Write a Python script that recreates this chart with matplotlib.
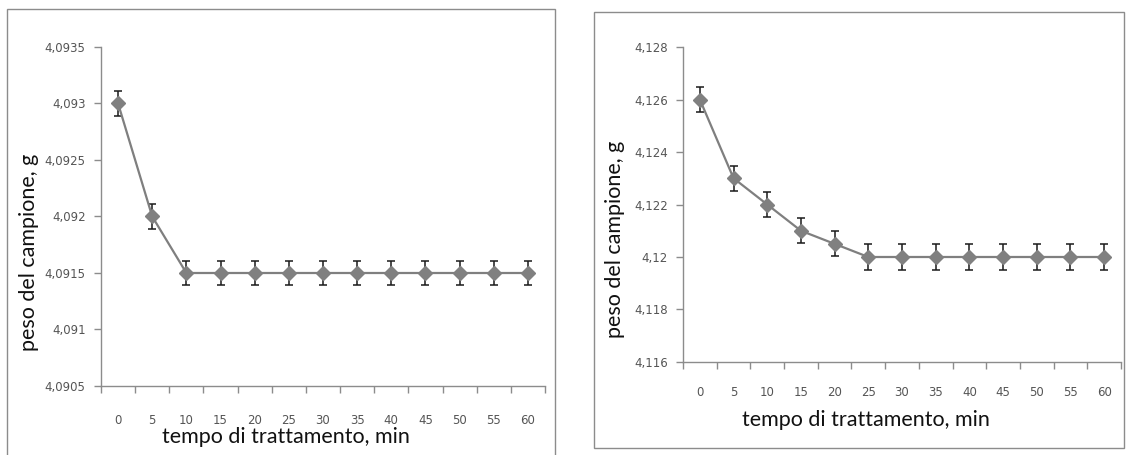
import matplotlib
matplotlib.use("Agg")
import matplotlib.pyplot as plt
from matplotlib.patches import Rectangle
import numpy as np

categories = ["0", "5", "10", "15", "20", "25", "30", "35", "40", "45", "50", "55", "60"]

left_values = [4.093, 4.092, 4.0915, 4.0915, 4.0915, 4.0915, 4.0915,
               4.0915, 4.0915, 4.0915, 4.0915, 4.0915, 4.0915]
left_err = [0.00011] * 13
left_yticks = [4.0905, 4.091, 4.0915, 4.092, 4.0925, 4.093, 4.0935]
left_yticklabels = ["4,0905", "4,091", "4,0915", "4,092", "4,0925", "4,093", "4,0935"]

right_values = [4.126, 4.123, 4.122, 4.121, 4.1205, 4.12, 4.12,
                4.12, 4.12, 4.12, 4.12, 4.12, 4.12]
right_err = [0.00048] * 13
right_yticks = [4.116, 4.118, 4.12, 4.122, 4.124, 4.126, 4.128]
right_yticklabels = ["4,116", "4,118", "4,12", "4,122", "4,124", "4,126", "4,128"]

xlabel = "tempo di trattamento, min"
ylabel = "peso del campione, g"

W, H = 1126, 455
fig = plt.figure(figsize=(W / 100, H / 100), dpi=100)
fig.patch.set_facecolor("white")

def fx(px):
    return px / W

def fy(py):
    return 1 - py / H

# outer frames
fig.patches.append(Rectangle((fx(7), fy(470)), fx(555) - fx(7), fy(9) - fy(470),
                             transform=fig.transFigure, fill=False,
                             edgecolor="#8c8c8c", linewidth=1.0))
fig.patches.append(Rectangle((fx(594), fy(448)), fx(1124) - fx(594), fy(12) - fy(448),
                             transform=fig.transFigure, fill=False,
                             edgecolor="#8c8c8c", linewidth=1.0))

def make_panel(rect, values, err, yticks, yticklabels, xlab_pad, ylab_x, ylab_y,
               xlab_x, xlab_y):
    ax = fig.add_axes(rect)
    x = np.arange(len(categories))
    ax.errorbar(x, values, yerr=err, fmt="none", ecolor="#1a1a1a",
                elinewidth=1.1, capsize=3, capthick=1.1, zorder=2)
    ax.plot(x, values, color="#7f7f7f", linewidth=1.6, marker="D",
            markersize=7.5, markerfacecolor="#808080", markeredgecolor="#808080",
            zorder=3)
    ax.set_xlim(-0.5, len(categories) - 0.5)
    ax.set_ylim(yticks[0], yticks[-1])
    ax.set_yticks(yticks)
    ax.set_yticklabels(yticklabels, fontsize=8.5, color="#555555",
                       family="Liberation Sans Narrow")
    ax.set_xticks(x)
    ax.set_xticklabels(categories, fontsize=8.5, color="#555555",
                       family="Liberation Sans Narrow")
    ax.set_xticks(np.arange(-0.5, len(categories), 1.0), minor=True)
    ax.tick_params(axis="x", which="major", length=0, pad=xlab_pad)
    ax.tick_params(axis="x", which="minor", length=5, direction="out",
                   color="#8c8c8c", width=1)
    ax.tick_params(axis="y", which="major", length=5, direction="out",
                   color="#8c8c8c", width=1, pad=6)
    for s in ["top", "right"]:
        ax.spines[s].set_visible(False)
    for s in ["left", "bottom"]:
        ax.spines[s].set_color("#8c8c8c")
        ax.spines[s].set_linewidth(1.0)
    fig.text(fx(ylab_x), fy(ylab_y), ylabel, rotation=90,
             ha="center", va="center", fontsize=15.5, family="Lato", color="#111111")
    fig.text(fx(xlab_x), fy(xlab_y), xlabel, ha="center",
             va="center", fontsize=15.5, family="Lato", color="#111111")
    return ax

make_panel([fx(101), fy(386), fx(545) - fx(101), fy(47) - fy(386)],
           left_values, left_err, left_yticks, left_yticklabels,
           xlab_pad=20, ylab_x=29, ylab_y=252, xlab_x=286, xlab_y=437)
make_panel([fx(683), fy(362), fx(1121) - fx(683), fy(47) - fy(362)],
           right_values, right_err, right_yticks, right_yticklabels,
           xlab_pad=17, ylab_x=615, ylab_y=239, xlab_x=866, xlab_y=420)

fig.savefig("out.png", dpi=100, facecolor="white")
